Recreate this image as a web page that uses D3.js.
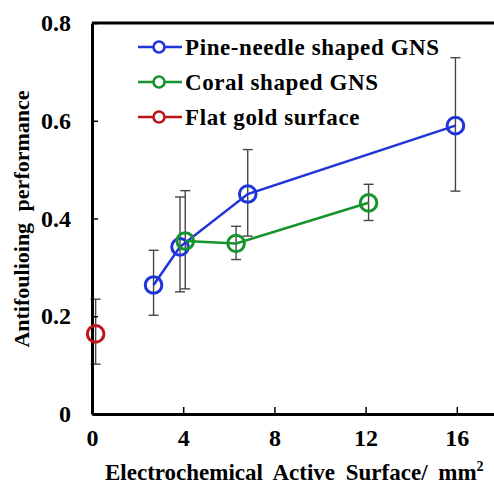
<!DOCTYPE html>
<html>
<head>
<meta charset="utf-8">
<script src="https://cdn.jsdelivr.net/npm/d3@7"></script>
</head>
<body style="margin:0;background:#fff">
<div id="chart"></div>
<script>
// data
const seriesNames = ["Pine-needle shaped GNS", "Coral shaped GNS", "Flat gold surface"];
const seriesColors = ["#1f35d8", "#15932c", "#c0141a"];
const pineX = [2.7, 3.86, 6.83, 15.94];
const pineY = [0.264, 0.342, 0.45, 0.59];
const pineLo = [0.202, 0.25, 0.364, 0.456];
const pineHi = [0.335, 0.444, 0.541, 0.729];
const coralX = [4.09, 6.32, 12.13];
const coralY = [0.354, 0.349, 0.432];
const coralLo = [0.256, 0.316, 0.396];
const coralHi = [0.457, 0.384, 0.47];
const flatX = [0.16];
const flatY = [0.164];
const flatLo = [0.102];
const flatHi = [0.235];
const xTicks = [0, 4, 8, 12, 16];
const yTicks = [0, 0.2, 0.4, 0.6, 0.8];

const width = 494;
const height = 485;
const margin = {top: 23, left: 92, bottom: 71};
const fontFamily = "'Liberation Serif', 'Times New Roman', serif";

const xScale = d3.scaleLinear().domain([0, 18]).range([margin.left, margin.left + 18 * 22.8]);
const yScale = d3.scaleLinear().domain([0, 0.8]).range([height - margin.bottom, margin.top]);

const svg = d3.select("#chart").append("svg")
    .attr("width", width)
    .attr("height", height);

const series = [
  {x: pineX, y: pineY, lo: pineLo, hi: pineHi},
  {x: coralX, y: coralY, lo: coralLo, hi: coralHi},
  {x: flatX, y: flatY, lo: flatLo, hi: flatHi}
].map((s, i) => ({
  name: seriesNames[i],
  color: seriesColors[i],
  pts: s.x.map((v, j) => ({x: v, y: s.y[j], lo: s.lo[j], hi: s.hi[j]}))
}));

// error bars (drawn first, under the lines)
const errG = svg.append("g").attr("stroke", "#474747").attr("stroke-width", 1.4);
series.forEach(s => {
  s.pts.forEach(p => {
    const cx = xScale(p.x);
    errG.append("line").attr("x1", cx).attr("x2", cx).attr("y1", yScale(p.lo)).attr("y2", yScale(p.hi));
    [p.lo, p.hi].forEach(v => {
      errG.append("line").attr("x1", cx - 5).attr("x2", cx + 5).attr("y1", yScale(v)).attr("y2", yScale(v));
    });
  });
});

// axes
const xAxis = svg.append("g")
    .attr("transform", `translate(0,${yScale(0)})`)
    .call(d3.axisBottom(xScale).tickValues(xTicks).tickSizeInner(-7).tickSizeOuter(0).tickPadding(15));
xAxis.select(".domain").attr("stroke-width", 3);
xAxis.selectAll(".tick line").attr("stroke-width", 1.5);

const yAxis = svg.append("g")
    .attr("transform", `translate(${xScale(0)},0)`)
    .call(d3.axisLeft(yScale).tickValues(yTicks).tickSizeInner(-6).tickSizeOuter(0).tickPadding(21)
      .tickFormat(d => d === 0 ? "0" : d.toFixed(1)));
yAxis.select(".domain").attr("stroke-width", 3);
yAxis.selectAll(".tick line").attr("stroke-width", 1.5);

[xAxis, yAxis].forEach(a => a.selectAll(".tick text")
    .attr("fill", "#000")
    .style("font-family", fontFamily)
    .style("font-weight", "bold")
    .style("font-size", "24px"));

// top frame line
svg.append("line")
    .attr("x1", xScale(0)).attr("x2", width)
    .attr("y1", yScale(0.8)).attr("y2", yScale(0.8))
    .attr("stroke", "#000").attr("stroke-width", 3);

// series lines + markers
const line = d3.line().x(d => xScale(d.x)).y(d => yScale(d.y));
series.forEach(s => {
  if (s.pts.length > 1) {
    svg.append("path").datum(s.pts)
        .attr("d", line)
        .attr("fill", "none")
        .attr("stroke", s.color)
        .attr("stroke-width", 2.6);
  }
  svg.selectAll(null).data(s.pts).enter().append("circle")
      .attr("cx", d => xScale(d.x))
      .attr("cy", d => yScale(d.y))
      .attr("r", 8.3)
      .attr("fill", "none")
      .attr("stroke", s.color)
      .attr("stroke-width", 3);
});

// legend
const legend = svg.append("g").attr("transform", "translate(138,47)");
seriesNames.forEach((name, i) => {
  const row = legend.append("g").attr("transform", `translate(0,${i * 35})`);
  row.append("line").attr("x1", 0).attr("x2", 44).attr("y1", 0).attr("y2", 0)
      .attr("stroke", seriesColors[i]).attr("stroke-width", 2.6);
  row.append("circle").attr("cx", 21).attr("cy", 0).attr("r", 5.5)
      .attr("fill", "#fff").attr("stroke", seriesColors[i]).attr("stroke-width", 2.6);
  row.append("text").attr("x", 47).attr("y", 8)
      .style("font-family", fontFamily)
      .style("font-weight", "bold")
      .style("font-size", "23px")
      .style("letter-spacing", "0.6px")
      .text(name);
});

// axis titles
const xTitle = svg.append("text")
    .attr("x", 105).attr("y", 480)
    .style("font-family", fontFamily)
    .style("font-weight", "bold")
    .style("font-size", "23px")
    .style("word-spacing", "5px")
    .text("Electrochemical Active Surface/ mm");
xTitle.append("tspan").attr("dy", -9).style("font-size", "14px").text("2");

svg.append("text")
    .attr("transform", "translate(29,219) rotate(-90)")
    .attr("text-anchor", "middle")
    .style("font-family", fontFamily)
    .style("font-weight", "bold")
    .style("font-size", "22px")
    .style("word-spacing", "6px")
    .text("Antifoulioing performance");
</script>
</body>
</html>
